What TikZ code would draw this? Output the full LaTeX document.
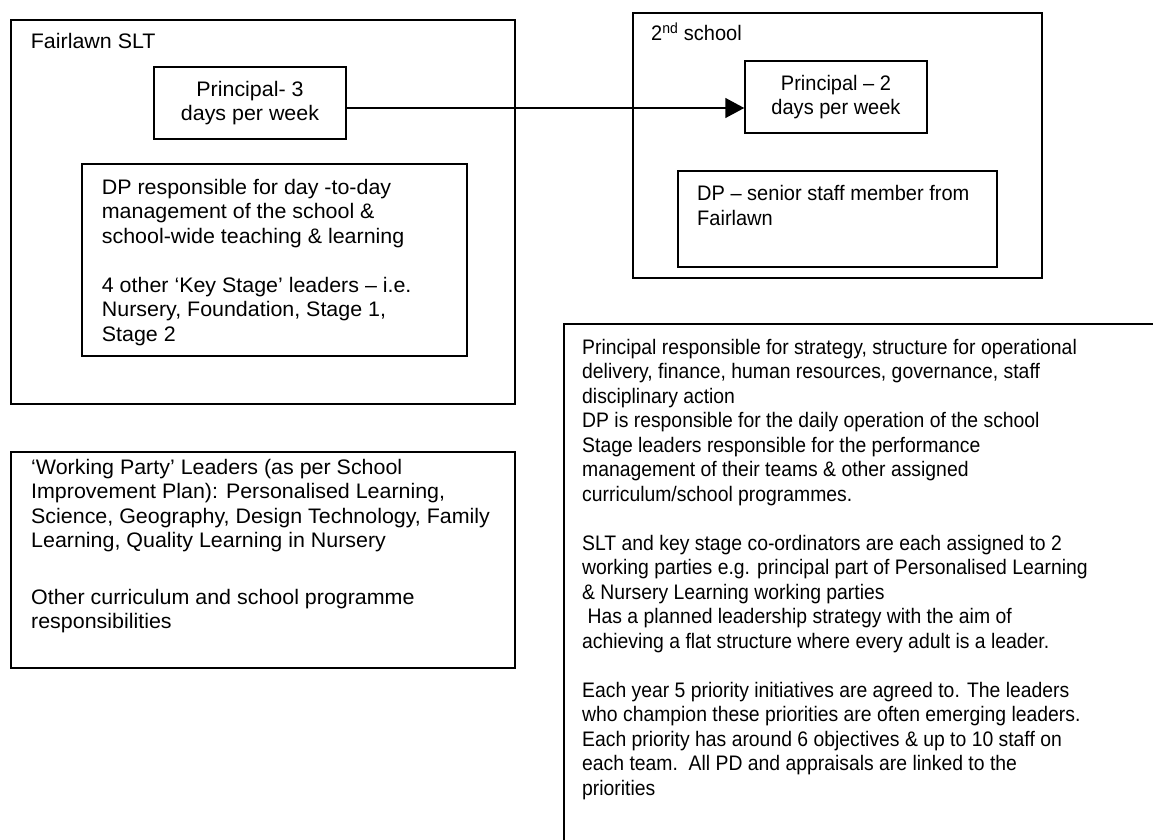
\documentclass[tikz,border=0pt]{standalone}
\usepackage{fontspec}
\setmainfont{Liberation Sans}
\newfontfamily\sltfont[FakeStretch=1.02]{Liberation Sans}
\newfontfamily\schoolfont[FakeStretch=0.953]{Liberation Sans}
\newfontfamily\notesfont[FakeStretch=0.922]{Liberation Sans}
\usetikzlibrary{positioning, arrows.meta}

\begin{document}
\begin{tikzpicture}[x=1pt, y=-1pt, >={Triangle[length=19pt, width=20pt]},
    frame/.style={draw, line width=1.5pt, anchor=north west, inner sep=0pt},
    role/.style={draw, line width=1.5pt, font=\fontsize{21}{24.5}\selectfont, align=center, inner sep=0pt},
    txt/.style={font=\fontsize{21}{24.5}\selectfont, align=left, inner sep=0pt, anchor=base west}]
    \useasboundingbox (0,0) rectangle (1153,839);

    % Fairlawn SLT (text nodes sit on the baseline of their last line)
    \node[frame, minimum width=504pt, minimum height=384pt] (slt) at (10,19) {};
    \node[txt] (sltname) at (30.7,48.3) {\sltfont Fairlawn SLT};
    \node[role, minimum width=192pt, minimum height=72pt] (p1) at (250,103) {\sltfont Principal- 3\\\sltfont days per week};
    \node[frame, minimum width=385pt, minimum height=192pt] (dp1) at (81,163) {};
    \node[txt, font=\fontsize{21}{24.5}\sltfont] (dp1text) at (101.7,341) {DP responsible for day -to-day\\
        management of the school \&\\
        school-wide teaching \& learning\\[24.5pt]
        4 other ‘Key Stage’ leaders – i.e.\\
        Nursery, Foundation, Stage 1,\\
        Stage 2};

    % second school
    \node[frame, minimum width=409pt, minimum height=265pt] (second) at (632,12) {};
    \node[txt] (secondname) at (651,40.7) {\schoolfont 2\textsuperscript{nd} school};
    \node[role, minimum width=182pt, minimum height=72pt] (p2) at (836,97) {\schoolfont Principal – 2\\\schoolfont days per week};
    \node[frame, minimum width=319pt, minimum height=96pt] (dp2) at (677,170) {};
    \node[txt, font=\fontsize{21}{24.5}\schoolfont] (dp2text) at (697,225.2) {DP – senior staff member from\\Fairlawn};

    % principal shared between the schools
    \coordinate (split) at ([yshift=-5pt]p1.east);
    \draw[->, line width=1.5pt] (split) -- (split -| p2.west);

    % working parties
    \node[frame, minimum width=504pt, minimum height=216pt] (wp) at (10,451) {};
    \node[txt, font=\fontsize{21}{24.5}\sltfont] (wptext) at (31,628.5) {‘Working Party’ Leaders (as per School\\
        Improvement Plan): Personalised Learning,\\
        Science, Geography, Design Technology, Family\\
        Learning, Quality Learning in Nursery\\[32pt]
        Other curriculum and school programme\\
        responsibilities};

    % roles and strategy
    \node[frame, minimum width=700pt, minimum height=600pt] (notes) at (563,323) {};
    \node[txt, font=\fontsize{21}{24.5}\notesfont] (notestext) at (582,795) {Principal responsible for strategy, structure for operational\\
        delivery, finance, human resources, governance, staff\\
        disciplinary action\\
        DP is responsible for the daily operation of the school\\
        Stage leaders responsible for the performance\\
        management of their teams \& other assigned\\
        curriculum/school programmes.\\[24.5pt]
        SLT and key stage co-ordinators are each assigned to 2\\
        working parties e.g. principal part of Personalised Learning\\
        \& Nursery Learning working parties\\
        \hspace*{5.5pt}Has a planned leadership strategy with the aim of\\
        achieving a flat structure where every adult is a leader.\\[24.5pt]
        Each year 5 priority initiatives are agreed to. The leaders\\
        who champion these priorities are often emerging leaders.\\
        Each priority has around 6 objectives \& up to 10 staff on\\
        each team.\ \ All PD and appraisals are linked to the\\
        priorities};
\end{tikzpicture}
\end{document}
